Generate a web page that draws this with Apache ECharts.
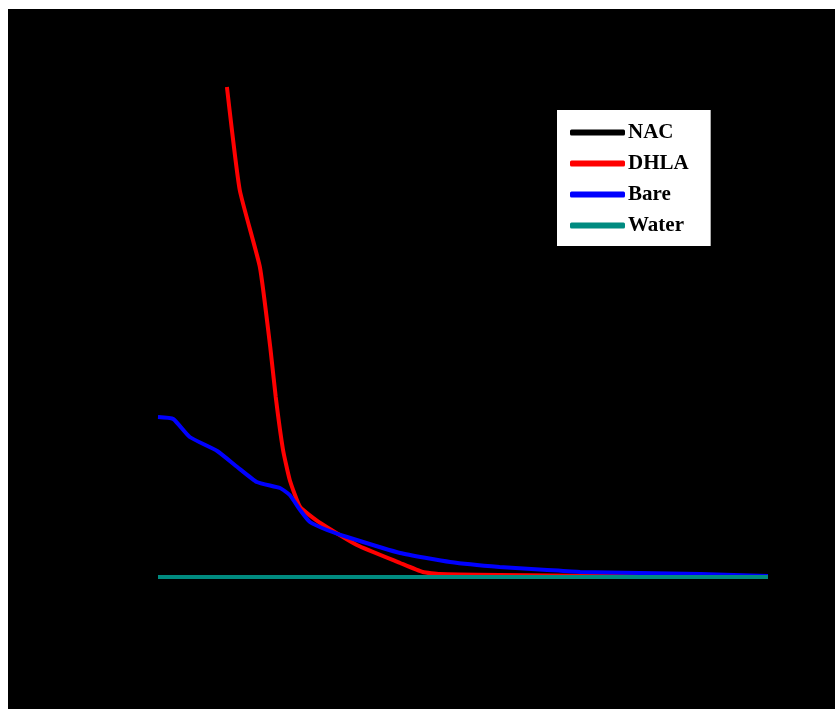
<!DOCTYPE html>
<html>
<head>
<meta charset="utf-8">
<script src="https://cdn.jsdelivr.net/npm/echarts@6/dist/echarts.min.js"></script>
<style>
body{margin:0;background:#fff;}
#main{position:absolute;left:8px;top:9px;width:827px;height:700px;background:#000;}
</style>
</head>
<body>
<div id="main"></div>
<script>
var names = ["NAC", "DHLA", "Bare", "Water"];
var colors = ["#000000", "#ff0000", "#0000ff", "#008b80"];

// x, y pairs
var nac = [[0,0],[25,0],[50,0],[75,0],[100,0]];
var dhla = [[11.3,98],[13.4,77.4],[16.7,62],[18.4,46],[19.3,36],[20.5,25.4],[21.6,19.4],[23.3,14],
	[26.6,10.8],[32.6,6.4],[39.7,2.8],[43.4,1],[46.2,0.6],[56,0.4],[72.5,0.2],[100,0.2]];
var bare = [[0,32],[2.5,31.6],[5.2,28],[9.7,25.2],[13,22],[16.2,19],[20,17.8],[21.6,16.4],[23.3,13.4],
	[24.9,11],[27.7,9.4],[31,8],[39.7,4.8],[47.9,3],[56,2],[63.8,1.4],[69.2,1],[79,0.8],[88.9,0.6],[100,0.2]];
var water = [[0,0],[25,0],[50,0],[75,0],[100,0]];

var seriesData = [nac, dhla, bare, water];

var chart = echarts.init(document.getElementById("main"));
var series = [];
for (var i = 0; i < names.length; i++) {
	series.push({
		name: names[i],
		type: 'line',
		data: seriesData[i],
		smooth: 0.15,
		showSymbol: false,
		clip: false,
		itemStyle: {color: colors[i]},
		lineStyle: {color: colors[i], width: 4}
	});
}

var option = {
	backgroundColor: '#000',
	animation: false,
	grid: {left: 150, right: 67, top: 68, bottom: 132},
	xAxis: {
		type: 'value', min: 0, max: 100,
		axisLine: {show: false}, axisTick: {show: false},
		axisLabel: {show: false}, splitLine: {show: false}
	},
	yAxis: {
		type: 'value', min: 0, max: 100,
		axisLine: {show: false}, axisTick: {show: false},
		axisLabel: {show: false}, splitLine: {show: false}
	},
	legend: {
		orient: 'vertical',
		left: 549, top: 101,
		data: names,
		backgroundColor: '#fff',
		padding: [12, 22, 10, 13],
		itemGap: 10,
		itemWidth: 55,
		itemHeight: 6,
		icon: 'roundRect',
		textStyle: {
			fontFamily: 'Liberation Serif',
			fontWeight: 'bold',
			fontSize: 21,
			color: '#000',
			padding: [0, 0, 0, -2]
		}
	},
	series: series
};
chart.setOption(option, true);
</script>
</body>
</html>
